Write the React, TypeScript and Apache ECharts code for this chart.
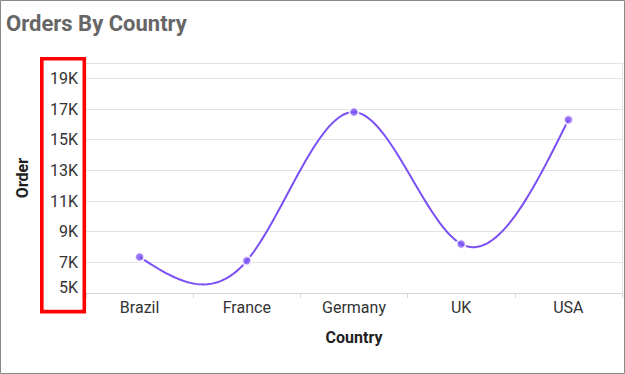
import React, { useEffect, useRef } from "react";
import * as echarts from "echarts";

const categories = ["Brazil", "France", "Germany", "UK", "USA"];
const orders = [7350, 7100, 16800, 8200, 16300];
const yTickValues = [5000, 7000, 9000, 11000, 13000, 15000, 17000, 19000];
const yAxisMin = 5000;
const yAxisMax = 20000;

const LINE_COLOR = "#7b4ff6";
const FONT = "Roboto";
const fmtK = (v: number) => `${v / 1000}K`;

function naturalSpline(pts: number[][], samplesPerSeg: number): number[][] {
  const n = pts.length;
  const xs = pts.map((p) => p[0]);
  const ys = pts.map((p) => p[1]);
  const y2 = new Array(n).fill(0);
  const u = new Array(n).fill(0);
  for (let i = 1; i < n - 1; i++) {
    const sig = (xs[i] - xs[i - 1]) / (xs[i + 1] - xs[i - 1]);
    const p = sig * y2[i - 1] + 2;
    y2[i] = (sig - 1) / p;
    const d =
      (ys[i + 1] - ys[i]) / (xs[i + 1] - xs[i]) -
      (ys[i] - ys[i - 1]) / (xs[i] - xs[i - 1]);
    u[i] = ((6 * d) / (xs[i + 1] - xs[i - 1]) - sig * u[i - 1]) / p;
  }
  y2[n - 1] = 0;
  for (let k = n - 2; k >= 0; k--) y2[k] = y2[k] * y2[k + 1] + u[k];
  const out: number[][] = [];
  for (let i = 0; i < n - 1; i++) {
    const h = xs[i + 1] - xs[i];
    for (let s = 0; s < samplesPerSeg; s++) {
      const t = s / samplesPerSeg;
      const x = xs[i] + t * h;
      const a = 1 - t;
      const b = t;
      const y =
        a * ys[i] +
        b * ys[i + 1] +
        (((a * a * a - a) * y2[i] + (b * b * b - b) * y2[i + 1]) * h * h) / 6;
      out.push([x, y]);
    }
  }
  out.push([xs[n - 1], ys[n - 1]]);
  return out;
}

export default function App() {
  const ref = useRef<HTMLDivElement>(null);
  useEffect(() => {
    if (!ref.current) return;
    const chart = echarts.init(ref.current, undefined, { renderer: "svg" });
    const pointData = categories.map((c, i) => [i, orders[i]]);
    chart.setOption({
      animation: false,
      backgroundColor: "#ffffff",
      title: {
        text: "Orders By Country",
        left: 6,
        top: 12,
        padding: 0,
        textStyle: {
          fontFamily: FONT,
          fontSize: 22,
          fontWeight: "bold",
          color: "#666666",
        },
      },
      grid: { left: 86, right: 3, top: 63, bottom: 81, containLabel: false },
      xAxis: {
        type: "category",
        data: categories,
        boundaryGap: true,
        name: "Country",
        nameLocation: "middle",
        nameGap: 36,
        nameTextStyle: {
          fontFamily: FONT,
          fontSize: 16,
          fontWeight: "bold",
          color: "#1f1f1f",
        },
        axisLine: { show: true, lineStyle: { color: "#d6d6d6", width: 1 } },
        axisTick: {
          show: true,
          length: 5,
          alignWithLabel: false,
          lineStyle: { color: "#d6d6d6" },
        },
        axisLabel: {
          fontFamily: FONT,
          fontSize: 16,
          color: "#333333",
          margin: 6,
        },
        splitLine: { show: false },
      },
      yAxis: [
        {
          type: "value",
          min: yAxisMin,
          max: yAxisMax,
          name: "Order",
          nameLocation: "middle",
          nameRotate: 90,
          nameGap: 56,
          nameTextStyle: {
            fontFamily: FONT,
            fontSize: 16,
            fontWeight: "bold",
            color: "#1f1f1f",
          },
          axisLine: { show: false },
          axisTick: { show: false, customValues: [...yTickValues, yAxisMax] },
          axisLabel: {
            customValues: yTickValues,
            fontFamily: FONT,
            fontSize: 16,
            color: "#333333",
            margin: 8,
            formatter: (v: number) =>
              v === yAxisMin ? `{min|${fmtK(v)}}` : fmtK(v),
            rich: {
              min: {
                fontFamily: FONT,
                fontSize: 16,
                color: "#333333",
                padding: [0, 0, 12, 0],
              },
            },
          },
          splitLine: { show: true, lineStyle: { color: "#e3e3e3", width: 1 } },
        },
        {
          type: "value",
          position: "right",
          min: yAxisMin,
          max: yAxisMax,
          axisLine: { show: true, lineStyle: { color: "#e3e3e3" } },
          axisTick: { show: false },
          axisLabel: { show: false },
          splitLine: { show: false },
        },
      ],
      graphic: [
        {
          type: "rect",
          shape: { x: 0.5, y: 0.5, width: 624, height: 373 },
          style: { fill: "none", stroke: "#888888", lineWidth: 1 },
          silent: true,
          z: 100,
        },
        {
          type: "rect",
          shape: { x: 41.8, y: 58.8, width: 42.5, height: 252.8 },
          style: { fill: "none", stroke: "#ff0000", lineWidth: 3.6 },
          silent: true,
          z: 100,
        },
      ],
      series: [
        {
          type: "custom",
          name: "OrdersCurve",
          coordinateSystem: "cartesian2d",
          encode: { x: 0, y: 1 },
          data: pointData,
          z: 2,
          renderItem: (params: any, api: any) => {
            if (params.dataIndex !== 0) return null;
            const pts = orders.map((v, i) => api.coord([i, v]));
            const curve = naturalSpline(pts, 40);
            return {
              type: "polyline",
              shape: { points: curve },
              style: { stroke: LINE_COLOR, lineWidth: 2, fill: null },
            };
          },
        },
        {
          type: "scatter",
          name: "Orders",
          data: pointData,
          symbol: "circle",
          symbolSize: 9,
          z: 3,
          itemStyle: {
            color: LINE_COLOR,
            borderColor: "#ffffff",
            borderWidth: 2,
          },
        },
      ],
    });
    return () => chart.dispose();
  }, []);
  return (
    <div
      ref={ref}
      style={{ position: "absolute", left: 0, top: 0, width: 625, height: 374 }}
    />
  );
}
